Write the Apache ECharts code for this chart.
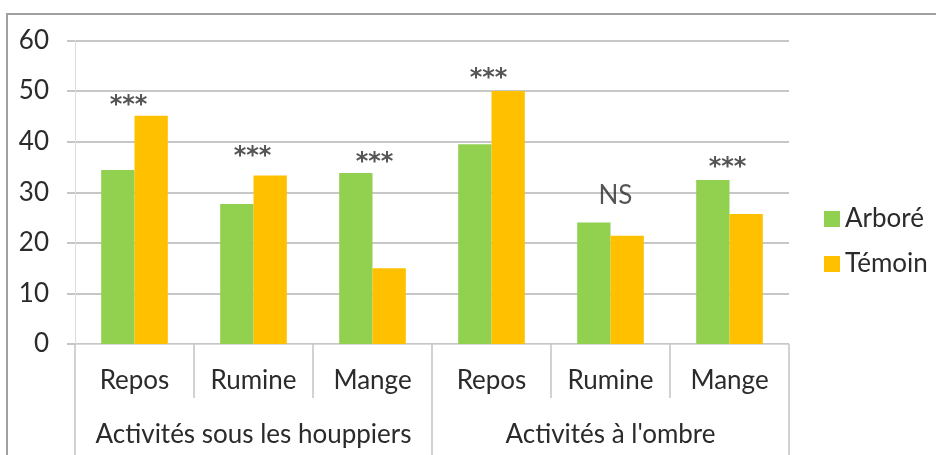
<!DOCTYPE html>
<html>
<head>
<meta charset="utf-8">
<script src="https://cdn.jsdelivr.net/npm/echarts@6/dist/echarts.min.js"></script>
<style>
  html, body { margin: 0; padding: 0; background: #ffffff; }
  #chart { width: 936px; height: 455px; }
</style>
</head>
<body>
<div id="chart"></div>
<script>
// Activity categories (lower level) and their groups (upper level)
const activities = ['Repos', 'Rumine', 'Mange', 'Repos', 'Rumine', 'Mange'];
const groups = ['Activités sous les houppiers', "Activités à l'ombre"];

// Percentages per treatment
const arbore = [34.4, 27.7, 33.8, 39.5, 24.0, 32.4];
const temoin = [45.1, 33.3, 15.0, 50.0, 21.4, 25.7];

// Significance of the difference for each activity
const signif = ['***', '***', '***', '***', 'NS', '***'];

// Value axis ticks
const yMin = 0, yMax = 60, yStep = 10;

const FONT = 'Lato';
const TEXT = '#2b2b2b';
const GRID = '#b4b4b4';
const TICK = '#c4c4c4';

// hand-placed nudges of the significance markers [dx, dy]
const markerNudge = [[-6, -2], [-1, -10], [2, -2], [-3, -4], [5, -4], [-2, -4]];

const chart = echarts.init(document.getElementById('chart'), null, { renderer: 'canvas' });

const markerData = activities.map((a, i) => {
  const isStar = signif[i] !== 'NS';
  return {
    value: [i, Math.max(arbore[i], temoin[i])],
    label: isStar
      ? { fontFamily: 'DejaVu Sans', fontWeight: 'bold', fontSize: 24, distance: -4,
          offset: markerNudge[i] }
      : { fontFamily: FONT, fontSize: 26, distance: 9, offset: markerNudge[i] }
  };
});

const option = {
  animation: false,
  backgroundColor: '#ffffff',
  textStyle: { fontFamily: FONT, color: TEXT },
  graphic: [{
    type: 'rect',
    z: -10,
    shape: { x: 7, y: 14, width: 1000, height: 1000 },
    style: { fill: 'none', stroke: '#a0a0a0', lineWidth: 2 }
  }],
  grid: { left: 75, right: 147, top: 40.5, bottom: 111, containLabel: false },
  legend: {
    orient: 'vertical',
    left: 819,
    top: 201,
    itemWidth: 16,
    itemHeight: 16,
    itemGap: 19,
    icon: 'rect',
    data: ['Arboré', 'Témoin'],
    textStyle: { fontFamily: FONT, fontSize: 26, color: TEXT, lineHeight: 26 }
  },
  xAxis: [{
    type: 'category',
    data: activities,
    position: 'bottom',
    axisLine: { show: true, lineStyle: { color: '#d9d9d9', width: 1 } },
    axisTick: { show: true, interval: 0, length: 54, lineStyle: { color: TICK, width: 1.5 } },
    axisLabel: { interval: 0, margin: 24, fontFamily: FONT, fontSize: 26, color: TEXT }
  }, {
    type: 'category',
    data: groups,
    position: 'bottom',
    axisLine: { show: false },
    axisTick: { show: true, interval: 0, length: 115, lineStyle: { color: TICK, width: 1.5 } },
    axisLabel: { interval: 0, margin: 78, fontFamily: FONT, fontSize: 26, color: TEXT }
  }],
  yAxis: {
    type: 'value',
    min: yMin,
    max: yMax,
    interval: yStep,
    axisLine: { show: true, lineStyle: { color: '#dcdcdc', width: 1 } },
    axisTick: { show: true, length: 8, lineStyle: { color: GRID, width: 1.5 } },
    splitLine: { show: true, lineStyle: { color: GRID, width: 1.5 } },
    axisLabel: { margin: 26, fontFamily: FONT, fontSize: 26, color: TEXT }
  },
  series: [{
    name: 'Arboré',
    type: 'bar',
    data: arbore,
    barGap: '0%',
    barCategoryGap: '44%',
    itemStyle: { color: '#92D050' }
  }, {
    name: 'Témoin',
    type: 'bar',
    data: temoin,
    barGap: '0%',
    barCategoryGap: '44%',
    itemStyle: { color: '#FFC000' }
  }, {
    // significance markers above the taller bar of each pair
    name: 'signif',
    type: 'scatter',
    symbolSize: 1,
    itemStyle: { color: 'rgba(0,0,0,0)' },
    silent: true,
    z: 5,
    data: markerData,
    label: {
      show: true,
      position: 'top',
      color: TEXT,
      formatter: p => signif[p.dataIndex]
    }
  }]
};

chart.setOption(option);
</script>
</body>
</html>
